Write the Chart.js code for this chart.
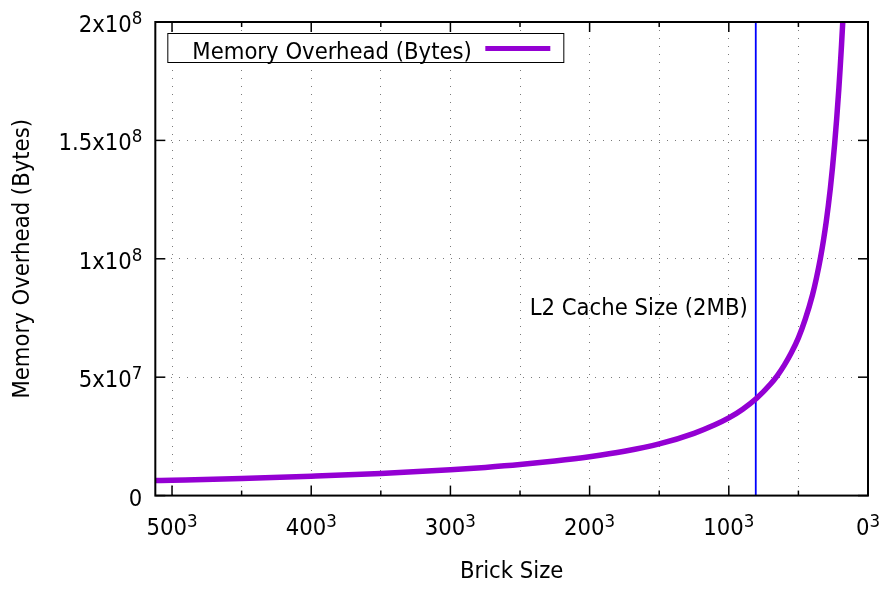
<!DOCTYPE html>
<html><head><meta charset="utf-8">
<script src="https://cdn.jsdelivr.net/npm/chart.js@4.4.1/dist/chart.umd.min.js"></script>
<style>html,body{margin:0;padding:0;background:#fff}canvas{display:block}</style>
</head><body>
<canvas id="c" width="884" height="589"></canvas>
<script>
// ---- data ----
const brickSize = [512, 500, 450, 400, 350, 300, 275, 250, 225, 200, 175, 150, 125, 110, 100, 90, 80, 70, 65, 60, 55, 50, 45, 40, 37, 34, 32, 30, 28.5, 27, 25.5, 24, 22.5, 21, 20, 19, 18, 17, 16];
const memoryOverhead = [6.35e6, 6.5e6, 7.2e6, 8.15e6, 9.3e6, 1.09e7, 1.19e7, 1.31e7, 1.46e7, 1.64e7, 1.87e7, 2.18e7, 2.63e7, 2.99e7, 3.28e7, 3.65e7, 4.11e7, 4.71e7, 5.08e7, 5.52e7, 6.04e7, 6.66e7, 7.46e7, 8.45e7, 9.2e7, 1.009e8, 1.078e8, 1.157e8, 1.225e8, 1.3e8, 1.386e8, 1.483e8, 1.591e8, 1.714e8, 1.805e8, 1.905e8, 2.014e8, 2.14e8, 2.275e8];
const seriesName = 'Memory Overhead (Bytes)';
const cacheBrick = 80.63;
const cacheLabel = 'L2 Cache Size (2MB)';
const cacheLabelY = 8e7;
const xTickValues = [500, 400, 300, 200, 100, 0];
const xTickBase = ['500', '400', '300', '200', '100', '0'];
const xTickSup = ['3', '3', '3', '3', '3', '3'];
const yTickValues = [0, 5e7, 1e8, 1.5e8, 2e8];
const yTickBase = ['0', '5x10', '1x10', '1.5x10', '2x10'];
const yTickSup = ['', '7', '8', '8', '8'];
const xTitle = 'Brick Size';
const yTitle = 'Memory Overhead (Bytes)';

const FAMILY = "'DejaVu Sans Condensed', 'Liberation Sans', sans-serif";
const FS = 23.6, SUP = 18.5;

function line(ctx, x1, y1, x2, y2) { ctx.beginPath(); ctx.moveTo(x1, y1); ctx.lineTo(x2, y2); ctx.stroke(); }

function drawSup(ctx, base, sup, x, y, align) {
  ctx.font = FS + 'px ' + FAMILY;
  const wb = ctx.measureText(base).width;
  ctx.font = SUP + 'px ' + FAMILY;
  const ws = sup ? ctx.measureText(sup).width : 0;
  const w = wb + ws;
  let left = align === 'right' ? x - w : x - w / 2;
  ctx.textAlign = 'left';
  ctx.textBaseline = 'alphabetic';
  ctx.font = FS + 'px ' + FAMILY;
  ctx.fillText(base, left, y);
  if (sup) { ctx.font = SUP + 'px ' + FAMILY; ctx.fillText(sup, left + wb, y - 8); }
}

const decor = {
  id: 'decor',
  afterDatasetsDraw(chart) {
    const { ctx, chartArea: a, scales: { x, y } } = chart;
    ctx.save();
    ctx.strokeStyle = '#000';
    ctx.lineWidth = 1.5;
    x.ticks.forEach(t => {
      const px = x.getPixelForValue(t.value);
      const len = t.value % 100 === 0 ? 10 : 5;
      line(ctx, px, a.bottom, px, a.bottom - len);
      line(ctx, px, a.top, px, a.top + len);
    });
    y.ticks.forEach(t => {
      const py = y.getPixelForValue(t.value);
      line(ctx, a.left, py, a.left + 10, py);
      line(ctx, a.right, py, a.right - 10, py);
    });
    ctx.lineWidth = 2;
    ctx.strokeRect(a.left, a.top, a.right - a.left, a.bottom - a.top);

    ctx.fillStyle = '#000';
    xTickValues.forEach((v, i) => drawSup(ctx, xTickBase[i], xTickSup[i], x.getPixelForValue(v), a.bottom + 39, 'center'));
    yTickValues.forEach((v, i) => drawSup(ctx, yTickBase[i], yTickSup[i], a.left - 13, y.getPixelForValue(v) + 10, 'right'));

    // legend (opaque box, text then line sample)
    const lx = a.left + 12, ly = a.top + 11, lw = 396, lh = 29;
    ctx.fillStyle = '#fff';
    ctx.fillRect(lx, ly, lw, lh);
    ctx.strokeStyle = '#000'; ctx.lineWidth = 1;
    ctx.strokeRect(lx + 0.5, ly + 0.5, lw, lh);
    ctx.fillStyle = '#000';
    ctx.font = FS + 'px ' + FAMILY;
    ctx.textAlign = 'left'; ctx.textBaseline = 'alphabetic';
    ctx.fillText(seriesName, lx + 25, ly + 25.5);
    ctx.strokeStyle = '#9400d3'; ctx.lineWidth = 5;
    line(ctx, lx + 318, ly + 15.5, lx + 383, ly + 15.5);

    // cache label
    ctx.fillStyle = '#000';
    ctx.textAlign = 'right';
    ctx.fillText(cacheLabel, x.getPixelForValue(cacheBrick) - 8, y.getPixelForValue(cacheLabelY) + 9);
    ctx.restore();
  }
};

new Chart(document.getElementById('c'), {
  type: 'line',
  data: {
    datasets: [
      {
        label: seriesName,
        data: brickSize.map((b, i) => ({ x: b, y: memoryOverhead[i] })),
        borderColor: '#9400d3', borderWidth: 5.5, pointRadius: 0,
        cubicInterpolationMode: 'monotone', fill: false, clip: 0
      },
      {
        label: cacheLabel,
        data: [{ x: cacheBrick, y: 0 }, { x: cacheBrick, y: 2e8 }],
        borderColor: '#0000ff', borderWidth: 1.8, pointRadius: 0, fill: false, clip: 0
      }
    ]
  },
  options: {
    responsive: false, animation: false, devicePixelRatio: 1,
    layout: { padding: { left: 0, right: 16, top: 22, bottom: 0 } },
    plugins: { legend: { display: false }, tooltip: { enabled: false } },
    scales: {
      x: {
        type: 'linear', reverse: true, min: 0, max: 512,
        ticks: { display: false, stepSize: 50, includeBounds: false },
        grid: { color: '#7a7a7a', lineWidth: 1, drawTicks: false },
        border: { display: false, dash: [1, 7] },
        title: { display: true, text: xTitle, color: '#000', font: { family: FAMILY, size: FS }, padding: { top: 61.9, bottom: 3.2 } }
      },
      y: {
        type: 'linear', min: 0, max: 2e8,
        ticks: { display: false, stepSize: 5e7 },
        grid: { color: '#7a7a7a', lineWidth: 1, drawTicks: false },
        border: { display: false, dash: [1, 7] },
        title: { display: true, text: yTitle, color: '#000', font: { family: FAMILY, size: FS }, padding: { top: 9, bottom: 118 } }
      }
    }
  },
  plugins: [decor]
});
</script>
</body></html>
